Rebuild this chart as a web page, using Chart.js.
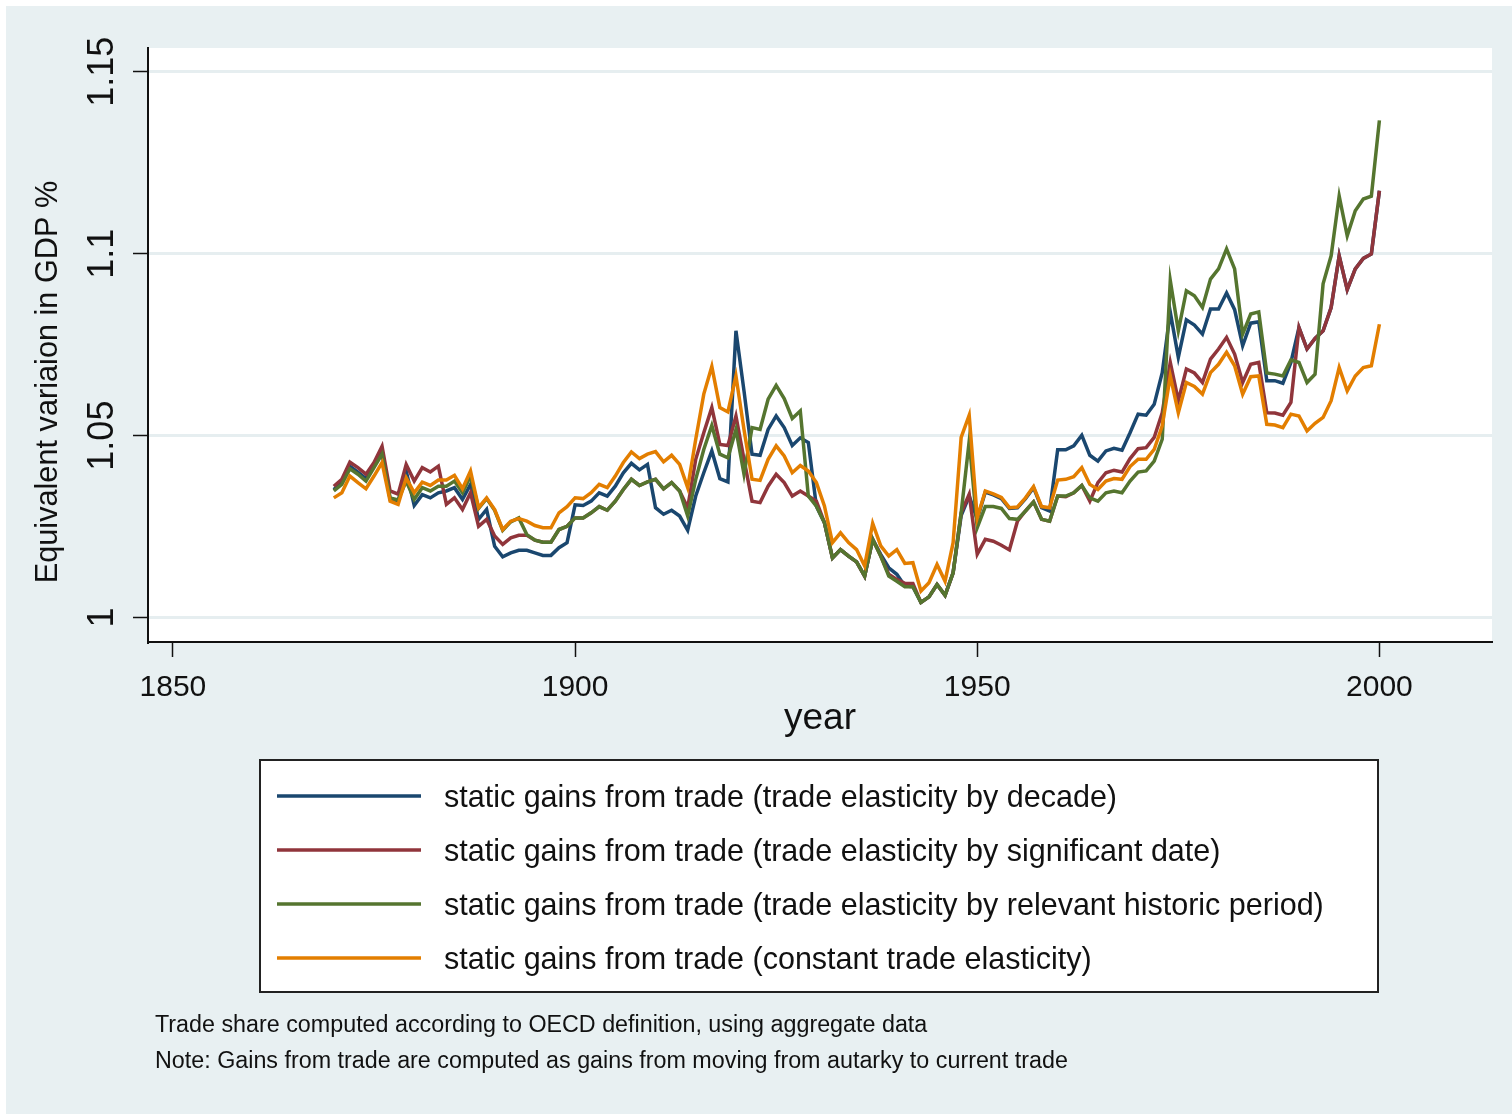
<!DOCTYPE html>
<html>
<head>
<meta charset="utf-8">
<title>Static gains from trade</title>
<script src="https://cdn.jsdelivr.net/npm/chart.js@4.4.1/dist/chart.umd.min.js"></script>
<style>
    html, body { margin: 0; padding: 0; background: #fff; }
    #wrap { width: 1512px; height: 1114px; }
</style>
</head>
<body>
<div id="wrap"><canvas id="gains" width="1512" height="1114"></canvas></div>
<script>
// Annual series, 1870-2000
const firstYear = 1870;

const byDecade = [
    1.0352, 1.0372, 1.0416, 1.0400, 1.0382, 1.0416, 1.0458, 1.0325, 1.0320, 1.0403, // 1870s
    1.0308, 1.0338, 1.0329, 1.0343, 1.0348, 1.0357, 1.0325, 1.0366, 1.0270, 1.0297, // 1880s
    1.0196, 1.0167, 1.0178, 1.0185, 1.0185, 1.0178, 1.0171, 1.0171, 1.0192, 1.0206, // 1890s
    1.0310, 1.0308, 1.0320, 1.0343, 1.0334, 1.0361, 1.0398, 1.0424, 1.0406, 1.0421, // 1900s
    1.0302, 1.0284, 1.0295, 1.0279, 1.0240, 1.0334, 1.0398, 1.0458, 1.0382, 1.0373, // 1910s
    1.0788, 1.0623, 1.0449, 1.0446, 1.0517, 1.0554, 1.0522, 1.0473, 1.0494, 1.0481, // 1920s
    1.0306, 1.0261, 1.0164, 1.0187, 1.0169, 1.0153, 1.0114, 1.0215, 1.0174, 1.0137, // 1930s
    1.0119, 1.0087, 1.0085, 1.0042, 1.0057, 1.0091, 1.0061, 1.0123, 1.0280, 1.0334, // 1940s
    1.0270, 1.0345, 1.0337, 1.0327, 1.0300, 1.0302, 1.0327, 1.0357, 1.0302, 1.0293, // 1950s
    1.0461, 1.0461, 1.0472, 1.0501, 1.0446, 1.0430, 1.0458, 1.0465, 1.0460, 1.0508, // 1960s
    1.0559, 1.0556, 1.0586, 1.0673, 1.0839, 1.0715, 1.0818, 1.0804, 1.0779, 1.0848, // 1970s
    1.0848, 1.0892, 1.0846, 1.0747, 1.0809, 1.0813, 1.0651, 1.0651, 1.0644, 1.0701, // 1980s
    1.0797, 1.0738, 1.0767, 1.0788, 1.0852, 1.0994, 1.0901, 1.0958, 1.0987, 1.0999, // 1990s
    1.1173
];

const bySignificantDate = [
    1.0361, 1.0380, 1.0427, 1.0412, 1.0394, 1.0426, 1.0471, 1.0348, 1.0339, 1.0421,
    1.0375, 1.0412, 1.0400, 1.0416, 1.0311, 1.0329, 1.0297, 1.0343, 1.0251, 1.0270,
    1.0224, 1.0201, 1.0219, 1.0226, 1.0226, 1.0213, 1.0207, 1.0207, 1.0242, 1.0251,
    1.0274, 1.0274, 1.0288, 1.0305, 1.0295, 1.0320, 1.0352, 1.0380, 1.0363, 1.0373,
    1.0380, 1.0354, 1.0371, 1.0348, 1.0302, 1.0435, 1.0508, 1.0577, 1.0476, 1.0473,
    1.0554, 1.0435, 1.0320, 1.0316, 1.0361, 1.0394, 1.0371, 1.0334, 1.0348, 1.0334,
    1.0320, 1.0261, 1.0164, 1.0187, 1.0169, 1.0153, 1.0114, 1.0215, 1.0169, 1.0119,
    1.0105, 1.0094, 1.0094, 1.0042, 1.0057, 1.0091, 1.0061, 1.0123, 1.0288, 1.0339,
    1.0174, 1.0215, 1.0210, 1.0199, 1.0186, 1.0265, 1.0293, 1.0318, 1.0270, 1.0265,
    1.0334, 1.0332, 1.0343, 1.0363, 1.0320, 1.0371, 1.0398, 1.0405, 1.0400, 1.0437,
    1.0464, 1.0467, 1.0495, 1.0563, 1.0701, 1.0596, 1.0683, 1.0672, 1.0646, 1.0710,
    1.0738, 1.0770, 1.0724, 1.0646, 1.0696, 1.0701, 1.0563, 1.0562, 1.0556, 1.0591,
    1.0797, 1.0738, 1.0767, 1.0788, 1.0852, 1.0994, 1.0901, 1.0958, 1.0987, 1.0999,
    1.1173
];

const byHistoricPeriod = [
    1.0348, 1.0366, 1.0409, 1.0394, 1.0375, 1.0412, 1.0449, 1.0329, 1.0323, 1.0375,
    1.0325, 1.0357, 1.0348, 1.0361, 1.0361, 1.0375, 1.0343, 1.0389, 1.0300, 1.0327,
    1.0295, 1.0240, 1.0263, 1.0274, 1.0228, 1.0213, 1.0207, 1.0207, 1.0242, 1.0251,
    1.0274, 1.0274, 1.0288, 1.0305, 1.0295, 1.0320, 1.0352, 1.0380, 1.0363, 1.0373,
    1.0380, 1.0354, 1.0371, 1.0348, 1.0279, 1.0380, 1.0462, 1.0528, 1.0449, 1.0439,
    1.0517, 1.0394, 1.0522, 1.0517, 1.0600, 1.0638, 1.0602, 1.0547, 1.0568, 1.0334,
    1.0306, 1.0261, 1.0164, 1.0187, 1.0169, 1.0153, 1.0114, 1.0215, 1.0169, 1.0114,
    1.0100, 1.0085, 1.0085, 1.0042, 1.0057, 1.0091, 1.0061, 1.0123, 1.0288, 1.0485,
    1.0247, 1.0305, 1.0305, 1.0300, 1.0272, 1.0270, 1.0293, 1.0318, 1.0270, 1.0265,
    1.0334, 1.0334, 1.0343, 1.0363, 1.0329, 1.0320, 1.0343, 1.0348, 1.0343, 1.0375,
    1.0400, 1.0403, 1.0430, 1.0490, 1.0926, 1.0788, 1.0898, 1.0884, 1.0852, 1.0930,
    1.0958, 1.1013, 1.0958, 1.0779, 1.0834, 1.0840, 1.0672, 1.0669, 1.0664, 1.0708,
    1.0701, 1.0646, 1.0669, 1.0917, 1.0994, 1.1158, 1.1049, 1.1118, 1.1150, 1.1158,
    1.1366
];

const constantElasticity = [
    1.0329, 1.0343, 1.0389, 1.0371, 1.0354, 1.0389, 1.0426, 1.0320, 1.0311, 1.0384,
    1.0343, 1.0372, 1.0363, 1.0378, 1.0378, 1.0391, 1.0354, 1.0403, 1.0302, 1.0329,
    1.0297, 1.0242, 1.0265, 1.0272, 1.0265, 1.0253, 1.0247, 1.0247, 1.0288, 1.0305,
    1.0329, 1.0327, 1.0343, 1.0366, 1.0357, 1.0389, 1.0426, 1.0455, 1.0437, 1.0449,
    1.0456, 1.0428, 1.0446, 1.0421, 1.0357, 1.0490, 1.0614, 1.0690, 1.0577, 1.0565,
    1.0664, 1.0517, 1.0380, 1.0377, 1.0435, 1.0472, 1.0444, 1.0398, 1.0418, 1.0403,
    1.0371, 1.0307, 1.0206, 1.0233, 1.0206, 1.0187, 1.0142, 1.0259, 1.0197, 1.0169,
    1.0187, 1.0149, 1.0151, 1.0073, 1.0096, 1.0146, 1.0100, 1.0206, 1.0495, 1.0556,
    1.0274, 1.0348, 1.0340, 1.0330, 1.0302, 1.0304, 1.0329, 1.0360, 1.0305, 1.0302,
    1.0378, 1.0380, 1.0387, 1.0412, 1.0366, 1.0352, 1.0375, 1.0382, 1.0380, 1.0415,
    1.0435, 1.0435, 1.0462, 1.0527, 1.0664, 1.0563, 1.0646, 1.0635, 1.0614, 1.0673,
    1.0696, 1.0729, 1.0692, 1.0614, 1.0662, 1.0664, 1.0531, 1.0529, 1.0522, 1.0559,
    1.0554, 1.0513, 1.0534, 1.0550, 1.0596, 1.0687, 1.0623, 1.0664, 1.0687, 1.0692,
    1.0806
];

const years = byDecade.map((_, i) => firstYear + i);

const seriesLabels = [
    'static gains from trade (trade elasticity by decade)',
    'static gains from trade (trade elasticity by significant date)',
    'static gains from trade (trade elasticity by relevant historic period)',
    'static gains from trade (constant trade elasticity)'
];
const seriesColors = ['#1a476f', '#90353b', '#55752f', '#e37e00'];

const xTicks = [1850, 1900, 1950, 2000];
const yTicks = [1, 1.05, 1.1, 1.15];
const yTickLabels = ['1', '1.05', '1.1', '1.15'];

const notes = [
    'Trade share computed according to OECD definition, using aggregate data',
    'Note: Gains from trade are computed as gains from moving from autarky to current trade'
];

const FONT = '"Liberation Sans", Arial, Helvetica, sans-serif';
const BG = '#e8f0f2';
const GRID = '#e6eef0';
const INK = '#111';

const toPoints = values => values.map((v, i) => ({ x: years[i], y: v }));
const allSeries = [byDecade, bySignificantDate, byHistoricPeriod, constantElasticity];

// Stata-style frame: tinted graph region, white plot region, legend box and notes
const stataFrame = {
    id: 'stataFrame',
    beforeDraw(chart) {
        const { ctx, chartArea: a } = chart;
        ctx.save();
        ctx.fillStyle = '#fff';
        ctx.fillRect(0, 0, chart.width, chart.height);
        ctx.fillStyle = BG;
        ctx.fillRect(6, 6, chart.width - 6, chart.height - 6);
        ctx.fillStyle = '#fff';
        ctx.fillRect(a.left, a.top, a.right - a.left, a.bottom - a.top);
        ctx.restore();
    },
    afterDraw(chart) {
        const { ctx, chartArea: a } = chart;
        const xs = chart.scales.x;
        const ys = chart.scales.y;
        ctx.save();
        ctx.fillStyle = INK;

        // y tick labels, rotated like the axis title
        ctx.font = '36px ' + FONT;
        ctx.textAlign = 'center';
        ctx.textBaseline = 'alphabetic';
        yTicks.forEach((v, i) => {
            ctx.save();
            ctx.translate(113, ys.getPixelForValue(v));
            ctx.rotate(-Math.PI / 2);
            ctx.fillText(yTickLabels[i], 0, 0);
            ctx.restore();
        });

        // x tick labels
        ctx.font = '30px ' + FONT;
        xTicks.forEach(v => ctx.fillText(String(v), xs.getPixelForValue(v), 696));

        // axis titles
        ctx.font = '37px ' + FONT;
        ctx.fillText('year', (a.left + a.right) / 2, 729);
        ctx.save();
        ctx.translate(57, 382);
        ctx.rotate(-Math.PI / 2);
        ctx.font = '30.7px ' + FONT;
        ctx.fillText('Equivalent variaion in GDP %', 0, 0);
        ctx.restore();

        // legend
        ctx.fillStyle = '#fff';
        ctx.fillRect(260, 760, 1118, 232);
        ctx.strokeStyle = '#222';
        ctx.lineWidth = 2;
        ctx.strokeRect(260, 760, 1118, 232);
        ctx.font = '30.5px ' + FONT;
        ctx.textAlign = 'left';
        seriesLabels.forEach((label, i) => {
            const y = 796 + i * 54;
            ctx.strokeStyle = seriesColors[i];
            ctx.lineWidth = 3.5;
            ctx.beginPath();
            ctx.moveTo(277, y);
            ctx.lineTo(421, y);
            ctx.stroke();
            ctx.fillStyle = INK;
            ctx.fillText(label, 444, y + 11);
        });

        // notes
        ctx.font = '23.3px ' + FONT;
        notes.forEach((line, i) => ctx.fillText(line, 155, 1032 + i * 36));
        ctx.restore();
    }
};

new Chart(document.getElementById('gains'), {
    type: 'line',
    data: {
        datasets: allSeries.map((values, i) => ({
            label: seriesLabels[i],
            data: toPoints(values),
            borderColor: seriesColors[i],
            borderWidth: 3.5,
            pointRadius: 0,
            tension: 0,
            fill: false,
            order: 4 - i // later series on top
        }))
    },
    options: {
        responsive: false,
        animation: false,
        devicePixelRatio: 1,
        layout: { padding: { left: 0, top: 48, right: 20, bottom: 412 } },
        plugins: {
            legend: { display: false },
            tooltip: { enabled: false }
        },
        scales: {
            x: {
                type: 'linear',
                min: 1846.9,
                max: 2014.0,
                afterBuildTicks: s => { s.ticks = xTicks.map(v => ({ value: v })); },
                afterFit: s => { s.height = 60; },
                ticks: { display: false },
                grid: {
                    drawOnChartArea: false,
                    drawTicks: true,
                    tickLength: 15,
                    tickColor: INK,
                    tickWidth: 1.5
                },
                border: { display: true, color: INK, width: 2 }
            },
            y: {
                type: 'linear',
                min: 0.9933,
                max: 1.1565,
                afterBuildTicks: s => { s.ticks = yTicks.map(v => ({ value: v })); },
                afterFit: s => { s.width = 148; },
                ticks: { display: false },
                grid: {
                    color: GRID,
                    lineWidth: 3,
                    drawTicks: true,
                    tickLength: 15,
                    tickColor: INK,
                    tickWidth: 1.5
                },
                border: { display: true, color: INK, width: 2 }
            }
        }
    },
    plugins: [stataFrame]
});
</script>
</body>
</html>
